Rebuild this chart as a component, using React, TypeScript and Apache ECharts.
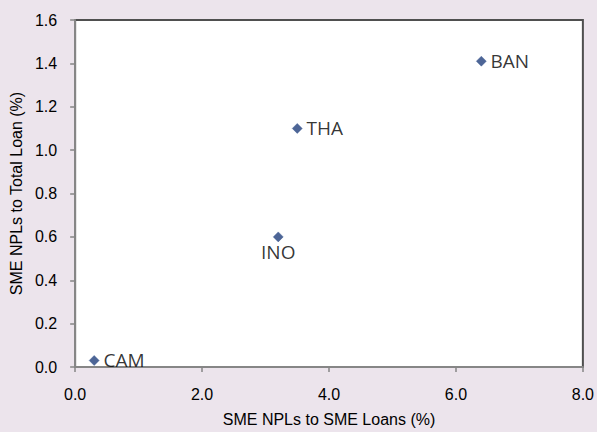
import React, { useEffect, useRef } from "react";
import * as echarts from "echarts";

const countries = ["CAM", "INO", "THA", "BAN"];
const smeNplToSmeLoans = [0.3, 3.2, 3.5, 6.4];
const smeNplToTotalLoan = [0.03, 0.6, 1.1, 1.41];
const xTicks = { min: 0, max: 8, interval: 2 };
const yTicks = { min: 0, max: 1.6, interval: 0.2 };

export default function App() {
  const ref = useRef<HTMLDivElement>(null);
  useEffect(() => {
    if (!ref.current) return;
    const chart = echarts.init(ref.current, null, { renderer: "svg" });
    const axisFont = { fontFamily: "Liberation Sans, Arial, sans-serif", fontSize: 16, color: "#000" };
    const data = countries.map((c, i) => ({
      name: c,
      value: [smeNplToSmeLoans[i], smeNplToTotalLoan[i]],
      label: c === "INO" ? { position: "bottom", distance: 0 } : { position: "right", distance: 4 },
    }));
    chart.setOption({
      animation: false,
      backgroundColor: "#ece4ec",
      grid: {
        left: 73,
        right: 14,
        top: 20,
        bottom: 59,
        show: true,
        backgroundColor: "#ffffff",
        borderColor: "#4f4f4f",
        borderWidth: 2,
      },
      xAxis: {
        type: "value",
        ...xTicks,
        name: "SME NPLs to SME Loans (%)",
        nameLocation: "middle",
        nameGap: 44,
        nameTextStyle: axisFont,
        axisLine: { show: true, onZero: false, lineStyle: { color: "#868686", width: 2 } },
        axisTick: { show: true, inside: false, length: 5, lineStyle: { color: "#868686", width: 1.5 } },
        axisLabel: { ...axisFont, margin: 19, formatter: (v: number) => v.toFixed(1) },
        splitLine: { show: false },
      },
      yAxis: {
        type: "value",
        ...yTicks,
        name: "SME NPLs to Total Loan (%)",
        nameLocation: "middle",
        nameGap: 43,
        nameTextStyle: axisFont,
        axisLine: { show: true, onZero: false, lineStyle: { color: "#868686", width: 2 } },
        axisTick: { show: true, inside: false, length: 5, lineStyle: { color: "#868686", width: 1.5 } },
        axisLabel: { ...axisFont, margin: 18, formatter: (v: number) => v.toFixed(1) },
        splitLine: { show: false },
      },
      series: [
        {
          type: "scatter",
          symbol: "diamond",
          symbolSize: 10,
          itemStyle: { color: "#203f7c", borderColor: "#34548f", borderWidth: 0.5 },
          label: {
            show: true,
            formatter: "{b}",
            fontFamily: "Open Sans, sans-serif",
            fontSize: 19,
            color: "#000",
          },
          data,
        },
      ],
    });
    return () => chart.dispose();
  }, []);
  return <div ref={ref} style={{ width: 597, height: 432, position: "absolute", left: 0, top: 0 }} />;
}
